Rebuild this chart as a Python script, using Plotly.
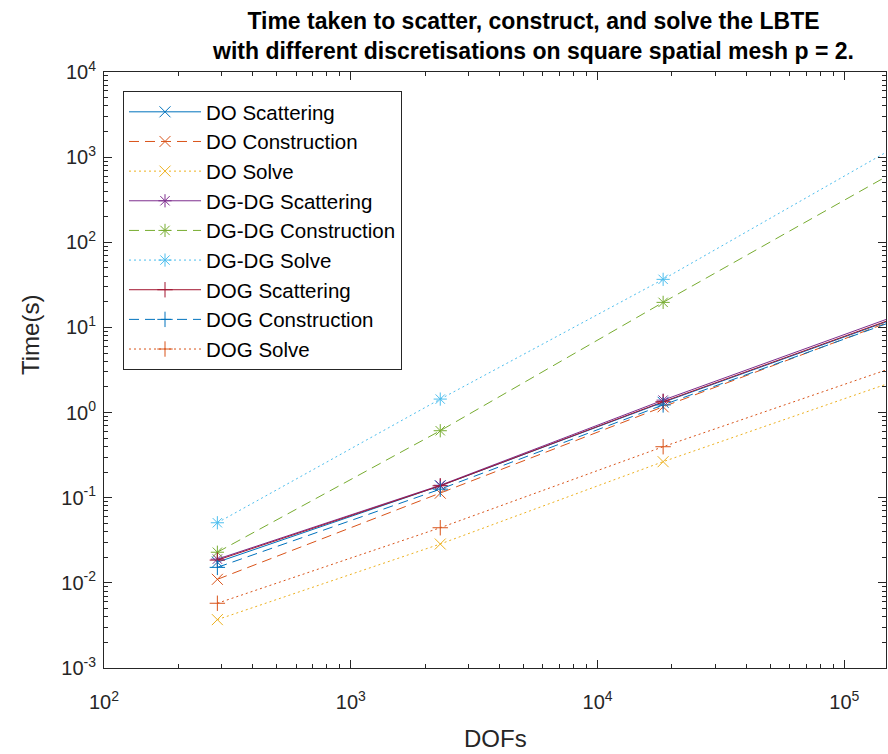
import plotly.graph_objects as go

dofs = [288, 2304, 18432, 147456]

do_scattering = [0.0175, 0.138, 1.32, 11.6]
do_construction = [0.0110, 0.113, 1.17, 11.2]
do_solve = [0.0037, 0.0286, 0.265, 2.15]
dgdg_scattering = [0.0190, 0.140, 1.40, 12.4]
dgdg_construction = [0.0229, 0.612, 19.7, 589]
dgdg_solve = [0.0508, 1.44, 36.7, 1140]
dog_scattering = [0.0185, 0.138, 1.34, 11.8]
dog_construction = [0.0152, 0.126, 1.23, 11.0]
dog_solve = [0.00576, 0.0444, 0.397, 3.16]

series_names = ["DO Scattering", "DO Construction", "DO Solve",
                "DG-DG Scattering", "DG-DG Construction", "DG-DG Solve",
                "DOG Scattering", "DOG Construction", "DOG Solve"]
series_values = [do_scattering, do_construction, do_solve,
                 dgdg_scattering, dgdg_construction, dgdg_solve,
                 dog_scattering, dog_construction, dog_solve]

colors = ["#0072BD", "#D95319", "#EDB120", "#7E2F8E", "#77AC30",
          "#4DBEEE", "#A2142F", "#0072BD", "#D95319"]
dashes = ["solid", "10px,6px", "2px,3px"] * 3
symbols = ["x-thin"] * 3 + ["asterisk"] * 3 + ["cross-thin"] * 3

x_tickvals = [1e2, 1e3, 1e4, 1e5]
x_ticktext = ["10<sup>2</sup>", "10<sup>3</sup>", "10<sup>4</sup>", "10<sup>5</sup>"]
y_tickvals = [1e-3, 1e-2, 1e-1, 1e0, 1e1, 1e2, 1e3, 1e4]
y_ticktext = ["10<sup>-3</sup>", "10<sup>-2</sup>", "10<sup>-1</sup>", "10<sup>0</sup>",
              "10<sup>1</sup>", "10<sup>2</sup>", "10<sup>3</sup>", "10<sup>4</sup>"]

title_text = ("<b>Time taken to scatter, construct, and solve the LBTE<br>"
              "with different discretisations on square spatial mesh p = 2.</b>")
x_title = "DOFs"
y_title = "Time(s)"

FONT = "Liberation Sans, Arial, sans-serif"

fig = go.Figure()
for name, vals, c, d, s in zip(series_names, series_values, colors, dashes, symbols):
    fig.add_trace(go.Scatter(
        x=dofs, y=vals, name=name, mode="lines+markers",
        line=dict(color=c, width=1, dash=d),
        marker=dict(symbol=s, size=11, color=c, line=dict(color=c, width=1)),
        cliponaxis=False,
    ))

W, H = 888, 754
ml, mr, mt, mb = 104, 2, 72, 86
pw = W - ml - mr
ph = H - mt - mb

def px_x(p):
    return (p - ml) / pw

def px_y(p):
    return (mt + ph - p) / ph

axis_common = dict(
    type="log", showgrid=False, zeroline=False,
    showline=True, linecolor="#262626", linewidth=1, mirror="ticks",
    ticks="inside", ticklen=8, tickcolor="#262626", tickwidth=1,
    tickfont=dict(family=FONT, size=20, color="#262626"),
    minor=dict(ticks="inside", ticklen=4, tickcolor="#262626", dtick="D1", showgrid=False),
)

fig.update_xaxes(**axis_common, range=[2, 5.16866], tickmode="array",
                 tickvals=x_tickvals, ticktext=x_ticktext, ticklabelstandoff=16)
fig.update_yaxes(**axis_common, range=[-3, 4], tickmode="array",
                 tickvals=y_tickvals, ticktext=y_ticktext, ticklabelstandoff=3)

fig.update_layout(
    width=W, height=H,
    margin=dict(l=ml, r=mr, t=mt, b=mb),
    paper_bgcolor="white", plot_bgcolor="white",
    legend=dict(
        x=px_x(123), y=px_y(91), xanchor="left", yanchor="top",
        bgcolor="white", bordercolor="#262626", borderwidth=1,
        font=dict(family=FONT, size=20.5, color="black"),
        itemwidth=72, tracegroupgap=0,
    ),
    showlegend=True,
    annotations=[
        dict(text=title_text, xref="paper", yref="paper",
             x=px_x(533), y=px_y(36), xanchor="center", yanchor="middle",
             showarrow=False, font=dict(family=FONT, size=23, color="black")),
        dict(text=x_title, xref="paper", yref="paper",
             x=px_x(495), y=px_y(738), xanchor="center", yanchor="middle",
             showarrow=False, font=dict(family=FONT, size=24, color="#262626")),
        dict(text=y_title, xref="paper", yref="paper",
             x=px_x(30), y=px_y(335), xanchor="center", yanchor="middle",
             textangle=-90, showarrow=False,
             font=dict(family=FONT, size=24, color="#262626")),
    ],
)

fig.write_html("out.html")
